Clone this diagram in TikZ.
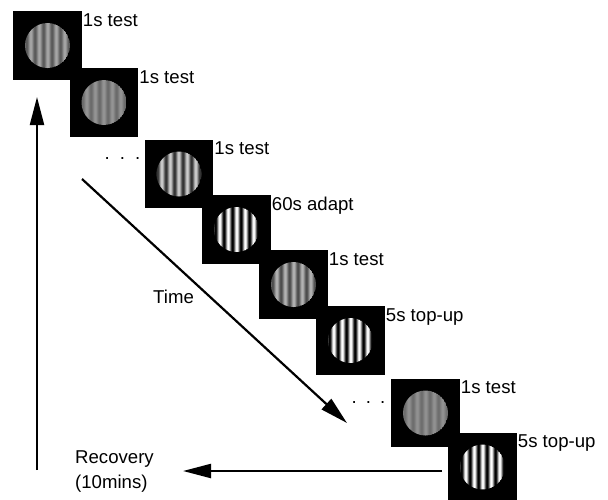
\documentclass[tikz,border=0pt]{standalone}
\usepackage{fontspec}
\setmainfont{Liberation Sans}
\usetikzlibrary{arrows.meta,calc}
\newcommand\gratingat[2]{%
  \begin{scope}
    \clip (#1.center) circle (22.5pt);
    \foreach \i in {-23,...,22} {
      \pgfmathsetmacro\gv{min(1,max(0,0.5+#2*cos(360*(\i+0.5)/8.5)))}
      \definecolor{gc}{gray}{\gv}
      \fill[gc] ($(#1.center)+(\i,-23)$) rectangle ($(#1.center)+(\i+1.1,23)$);
    }
  \end{scope}}
\begin{document}
\begin{tikzpicture}[x=1pt,y=-1pt,
  sq/.style={fill=black, minimum size=68.5pt, inner sep=0pt, outer sep=0pt},
  lab/.style={anchor=base west, inner sep=0pt, font=\fontsize{18.6}{20}\selectfont},
  arr/.style={line width=2.2pt, -{Triangle[length=28pt,width=14pt]}}]
\useasboundingbox[fill=white] (0,0) rectangle (608,499);
% squares
\node[sq] (s1) at (47.5,45.5) {};
\node[sq] (s2) at (104,102.5) {};
\node[sq] (s3) at (179,174) {};
\node[sq] (s4) at (236.5,229.5) {};
\node[sq] (s5) at (293.5,284.5) {};
\node[sq] (s6) at (350.5,340.5) {};
\node[sq] (s7) at (425.5,413) {};
\node[sq] (s8) at (482.5,467) {};
% gratings
\gratingat{s1}{0.15}
\gratingat{s2}{0.08}
\gratingat{s3}{0.3}
\gratingat{s4}{0.5}
\gratingat{s5}{0.2}
\gratingat{s6}{0.5}
\gratingat{s7}{0.07}
\gratingat{s8}{0.5}
% labels
\node[lab] (l1) at ($(s1.north east)+(1,15)$) {1s test};
\node[lab] (l2) at ($(s2.north east)+(1,15)$) {1s test};
\node[lab] (l3) at ($(s3.north east)+(1,15)$) {1s test};
\node[lab] (l4) at ($(s4.north east)+(1,15)$) {60s adapt};
\node[lab] (l5) at ($(s5.north east)+(1,15)$) {1s test};
\node[lab] (l6) at ($(s6.north east)+(1,15)$) {5s top-up};
\node[lab] (l7) at ($(s7.north east)+(1,15)$) {1s test};
\node[lab] (l8) at ($(s8.north east)+(1,15)$) {5s top-up};
% dots
\node[lab] (d1) at (104.5,159) {.\hspace{10pt}.\hspace{10pt}.};
\node[lab] (d2) at (351.5,403) {.\hspace{9pt}.\hspace{9pt}.};
% texts
\node[lab] (time) at (153,303) {Time};
\node[lab] (rec1) at (75,463) {Recovery};
\node[lab] (rec2) at (75,488) {(10mins)};
% arrows
\coordinate (upS) at (37,470);
\coordinate (upE) at (37,97);
\coordinate (tS) at (82,179);
\coordinate (tE) at (347,423);
\coordinate (rS) at (442,471);
\coordinate (rE) at (183,471);
\draw[arr] (upS) -- (upE);
\draw[arr] (tS) -- (tE);
\draw[arr] (rS) -- (rE);
\end{tikzpicture}
\end{document}
